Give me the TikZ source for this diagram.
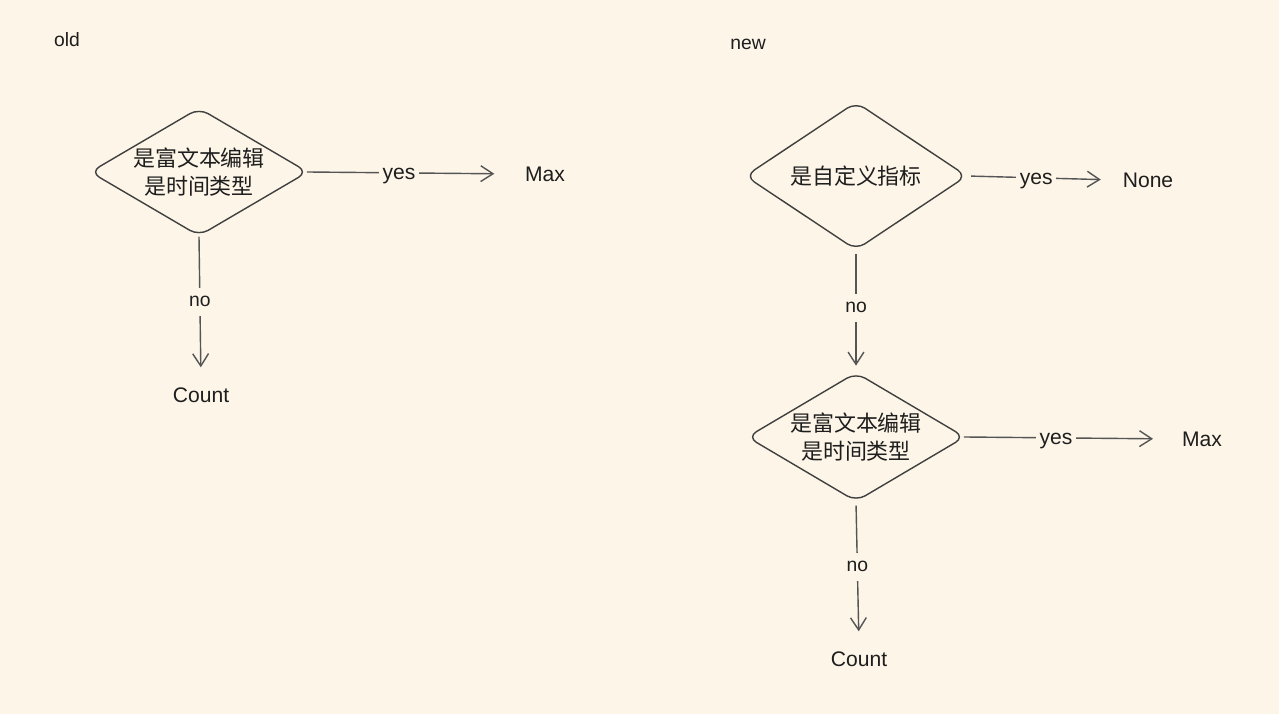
\documentclass[tikz,border=0pt]{standalone}
\usepackage{fontspec}
\setmainfont{Liberation Sans}
\newfontfamily\cjk{Noto Sans CJK SC}
\usetikzlibrary{arrows.meta,shapes.geometric,positioning}
\definecolor{paper}{HTML}{FDF5E8}
\definecolor{ink}{HTML}{1E1E1E}
\definecolor{pencil}{HTML}{555555}
\tikzset{
    decision/.style = {draw=ink!85, diamond, aspect=1.7,
        inner sep=0pt, rounded corners=6pt, line width=0.8pt,
        align=center, text=ink, font=\cjk\fontsize{12.5}{16}\selectfont},
    result/.style = {text=ink, font=\fontsize{12}{14}\selectfont},
    title/.style = {text=ink, font=\fontsize{11}{13}\selectfont},
    arrow/.style = {draw=pencil, line width=0.8pt,
        -{Straight Barb[length=7pt,width=9pt]}},
    yeslabel/.style = {fill=paper, text=ink, inner sep=2pt, yshift=-2pt, font=\fontsize{12}{14}\selectfont},
    nolabel/.style = {fill=paper, text=ink, inner sep=5pt, font=\fontsize{11}{13}\selectfont}
}
\begin{document}
\begin{tikzpicture}[x=0.02cm, y=-0.02cm]
    \fill[paper] (0,0) rectangle (1279,714);
    % old
    \node [title] (old) at (67,40) {old};
    \node [decision, minimum width=4.36cm, minimum height=2.56cm] (rich) at (199,172) {是富文本编辑\\是时间类型};
    \node [result] (max) at (545,174) {Max};
    \node [result] (count) at (201,395) {Count};
    \draw [arrow, shorten <=-1pt, shorten >=14pt] (rich.east) -- node[yeslabel, pos=.43]{yes} (max.west);
    \draw [arrow, shorten <=0pt, shorten >=8pt] (rich.south) -- node[nolabel, pos=.45]{no} (count.north);
    % new
    \node [title] (new) at (748,44) {new};
    \node [decision, minimum width=4.44cm, minimum height=2.96cm] (custom) at (856,176) {是自定义指标};
    \node [result] (none) at (1148,180) {None};
    \draw [arrow, shorten <=2pt, shorten >=9pt] (custom.east) -- node[yeslabel, pos=.46]{yes} (none.west);
    \node [decision, minimum width=4.36cm, minimum height=2.58cm] (rich2) at (856,437) {是富文本编辑\\是时间类型};
    \draw [arrow, shorten <=2pt, shorten >=3.5pt] (custom.south) -- node[nolabel, pos=.47]{no} (rich2.north);
    \node [result] (max2) at (1202,439) {Max};
    \draw [arrow, shorten <=-1pt, shorten >=13pt] (rich2.east) -- node[yeslabel, pos=.43]{yes} (max2.west);
    \node [result] (count2) at (859,659) {Count};
    \draw [arrow, shorten <=2pt, shorten >=8pt] (rich2.south) -- node[nolabel, pos=.45]{no} (count2.north);
\end{tikzpicture}
\end{document}
